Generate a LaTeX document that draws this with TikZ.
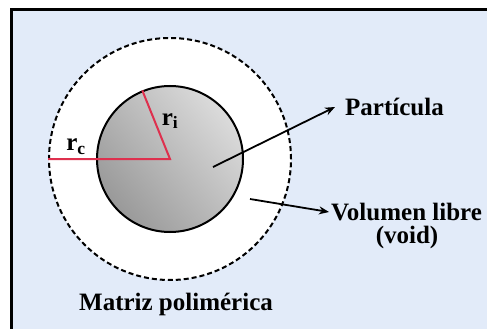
\documentclass[tikz,border=0pt]{standalone}
\usepackage{fontspec}
\setmainfont{Liberation Serif}
\usetikzlibrary{arrows.meta,positioning}
\definecolor{bgblue}{RGB}{226,235,249}
\definecolor{radred}{RGB}{222,48,78}

\begin{document}
\begin{tikzpicture}[x=1pt, y=-1pt,
    lbl/.style={font=\fontsize{25}{30}\selectfont\bfseries, inner sep=0pt},
    pointer/.style={draw, -{Stealth[length=10pt,width=8pt]}, line width=1.8pt},
    radline/.style={draw=radred, line width=2pt}
  ]
  \useasboundingbox (0,0) rectangle (487,329);
  % fondo y marco
  \fill[bgblue] (11,10) rectangle (487,329);
  \draw[line width=3pt] (11,329) -- (11,10) -- (487,10);

  \coordinate (c) at (170,159);
  \node[circle, draw, fill=white, line width=2pt,
        dash pattern=on 5pt off 3pt, minimum size=242pt] (outer) at (c) {};
  \node[circle, draw, line width=2pt, minimum size=146pt,
        top color=gray!28, bottom color=gray!80, shading angle=-50] (inner) at (c) {};

  % radios
  \draw[radline] (outer.west) -- (c) -- (inner.112);
  \node[lbl] (rc) at (76,147) {r\textsubscript{c}};
  \node[lbl] (ri) at (170,121) {r\textsubscript{i}};

  % etiquetas
  \coordinate (p1) at (213,167);
  \coordinate (p2) at (250,199);
  \node[lbl, anchor=west] (part) at (345,107) {Partícula};
  \node[lbl, anchor=west] (vol) at (331,212) {Volumen libre};
  \node[lbl] (void) at (407,237) {(void)};
  \node[lbl] (matriz) at (176,304) {Matriz polimérica};

  \draw[pointer] (p1) -- ([xshift=-10pt]part.west);
  \draw[pointer] (p2) -- ([xshift=-2pt]vol.west);
\end{tikzpicture}
\end{document}
